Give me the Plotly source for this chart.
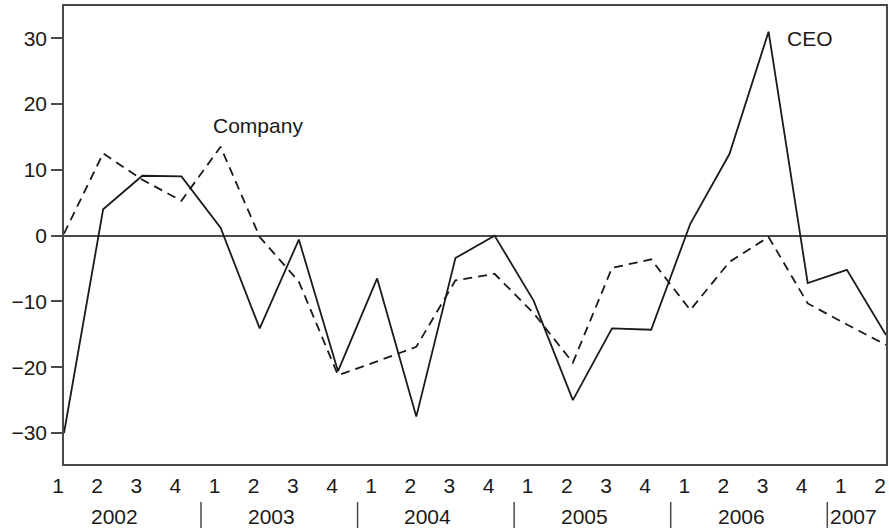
import plotly.graph_objects as go

# Quarterly percentage change, 2002 Q1 .. 2007 Q2
quarters = ["1", "2", "3", "4"] * 5 + ["1", "2"]
years = ["2002", "2003", "2004", "2005", "2006", "2007"]
ceo = [-30.0, 4.0, 9.1, 9.0, 1.2, -14.1, -0.6, -20.6,
       -6.5, -27.5, -3.4, 0.0, -9.9, -25.0, -14.1, -14.3,
       1.8, 12.4, 31.0, -7.2, -5.2, -15.1]
company = [0.3, 12.5, 8.5, 5.3, 13.5, -0.2, -7.0, -21.2,
           -19.1, -16.9, -6.8, -5.8, -11.8, -19.3, -4.9, -3.6,
           -11.3, -4.0, -0.2, -10.3, -13.5, -16.6]

x = list(range(len(quarters)))
ink = "#1a1a1a"
frame = "#4a4a4a"
font = dict(family="Liberation Sans, Arial, sans-serif", size=21, color=ink)

fig = go.Figure()
fig.add_trace(go.Scatter(x=x, y=company, mode="lines", name="Company",
                         line=dict(color=ink, width=1.8, dash="9px,6px")))
fig.add_trace(go.Scatter(x=x, y=ceo, mode="lines", name="CEO",
                         line=dict(color=ink, width=1.8)))

# series labels
fig.add_annotation(x=3.76, y=16.8, text="Company", showarrow=False,
                   xanchor="left", yanchor="middle", font=font)
fig.add_annotation(x=18.43, y=30.0, text="CEO", showarrow=False,
                   xanchor="left", yanchor="middle", font=font)

# year groups under the quarter labels
for i, yr in enumerate(years):
    if i < 5:
        fig.add_annotation(x=1.5 + 4 * i, y=-0.1157, xref="x", yref="paper",
                           text=yr, showarrow=False, xanchor="center",
                           yanchor="middle", xshift=-8, font=font)
    else:
        fig.add_annotation(x=19.5, y=-0.1157, xref="x", yref="paper",
                           text=yr, showarrow=False, xanchor="left",
                           yanchor="middle", xshift=1, font=font)
for k in range(5):
    fig.add_shape(type="line", xref="x", yref="paper",
                  x0=3.5 + 4 * k, x1=3.5 + 4 * k, y0=-0.083, y1=-0.1397,
                  line=dict(color=frame, width=1.5))

fig.update_xaxes(range=[0, 21], tickmode="array", tickvals=x, ticktext=quarters,
                 showline=True, mirror=True, linecolor=frame, linewidth=1.5,
                 showgrid=False, zeroline=False, ticks="",
                 ticklabelshift=-6, ticklabelstandoff=2, tickfont=font)
fig.update_yaxes(range=[-34.7, 34.9], tickmode="array",
                 tickvals=[-30, -20, -10, 0, 10, 20, 30],
                 showline=True, mirror=True, linecolor=frame, linewidth=1.5,
                 showgrid=False, zeroline=True, zerolinecolor=frame,
                 zerolinewidth=1.5, ticks="outside", ticklen=11,
                 tickcolor=frame, tickwidth=1.5, tickfont=font)

fig.update_layout(width=889, height=531, showlegend=False,
                  margin=dict(l=64, r=1, t=6, b=67),
                  paper_bgcolor="white", plot_bgcolor="white", font=font)

fig.write_html("out.html")
